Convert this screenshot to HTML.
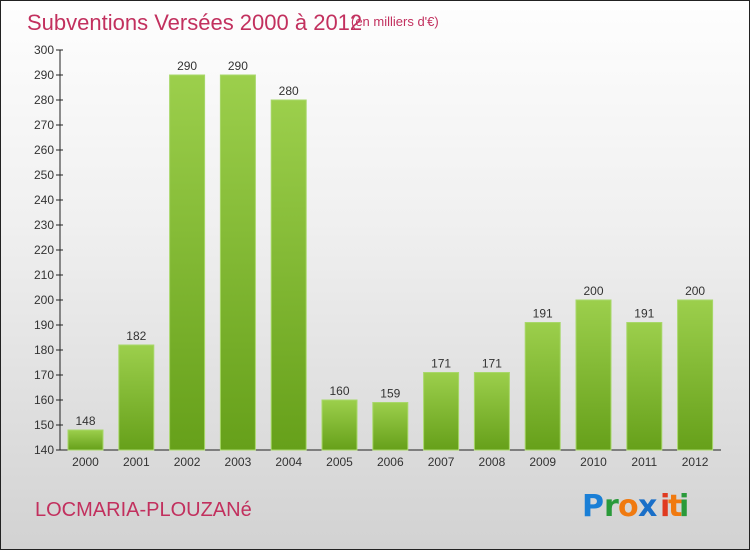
<!DOCTYPE html>
<html><head><meta charset="utf-8"><style>
body{margin:0;width:750px;height:550px;overflow:hidden;font-family:"Liberation Sans",sans-serif}
#wrap{position:absolute;left:0;top:0;width:748px;height:548px;border:1px solid #222;background:linear-gradient(#fefefe,#f0f0f0 40%,#d2d2d2)}
</style></head><body>
<div id="wrap">
<svg width="750" height="550" style="position:absolute;left:-1px;top:-1px">
<defs><linearGradient id="g" x1="0" y1="0" x2="0" y2="1"><stop offset="0" stop-color="#9ccf4c"/><stop offset="1" stop-color="#66a01a"/></linearGradient></defs>
<text x="27" y="30" font-size="22" fill="#c2305e">Subventions Versées 2000 à 2012</text>
<text x="351" y="26" font-size="13" fill="#c2305e">(en milliers d'€)</text>
<text x="35" y="516" font-size="20" fill="#c2305e">LOCMARIA-PLOUZANé</text>
<g font-size="30" font-family="'DejaVu Sans',sans-serif" font-weight="bold">
<text x="582" y="516" fill="#1a7fd6">P</text><text x="604" y="516" fill="#2a9a3a">r</text><text x="618" y="516" fill="#f07a10">o</text><text x="638" y="516" fill="#1a6fc8">x</text><text x="660" y="516" fill="#e03a20">i</text><text x="668" y="516" fill="#f07a10">t</text><text x="679" y="516" fill="#2a9a3a">i</text>
</g>
<g id="plot"></g>
</svg>
</div>
<script>
const years=["2000","2001","2002","2003","2004","2005","2006","2007","2008","2009","2010","2011","2012"];
const values=[148,182,290,290,280,160,159,171,171,191,200,191,200];
const ticks=[140,150,160,170,180,190,200,210,220,230,240,250,260,270,280,290,300];
const ns="http://www.w3.org/2000/svg";
const g=document.getElementById('plot');
const y=v=>450-(v-140)*2.5;
const xc=i=>85.5+i*50.8;
function mk(t,a,txt){const e=document.createElementNS(ns,t);for(const k in a)e.setAttribute(k,a[k]);if(txt!==undefined)e.textContent=txt;g.appendChild(e);return e;}
const ax=mk('line',{x1:60,y1:50,x2:60,y2:450,stroke:'#222'});


const bx=mk('line',{x1:60,y1:450,x2:721,y2:450,stroke:'#222'});


ticks.forEach(t=>{
 const l=mk('line',{x1:56,y1:y(t),x2:63,y2:y(t),stroke:'#222'});
 
 
 const tx=mk('text',{x:54,y:y(t)+4,'font-size':12,fill:'#333','text-anchor':'end'},t);
 
 
});
values.forEach((v,i)=>{
 const r=mk('rect',{x:xc(i)-17.5,y:y(v),width:35,height:450-y(v),fill:'url(#g)',stroke:'#a8d86a','stroke-width':1});
 
 
 const lb=mk('text',{x:xc(i),y:y(v)-5,'font-size':12,fill:'#333','text-anchor':'middle'},v);
 
 
 const xl=mk('text',{x:xc(i),y:466,'font-size':12,fill:'#333','text-anchor':'middle'},years[i]);
 
 
});
</script>
</body></html>
